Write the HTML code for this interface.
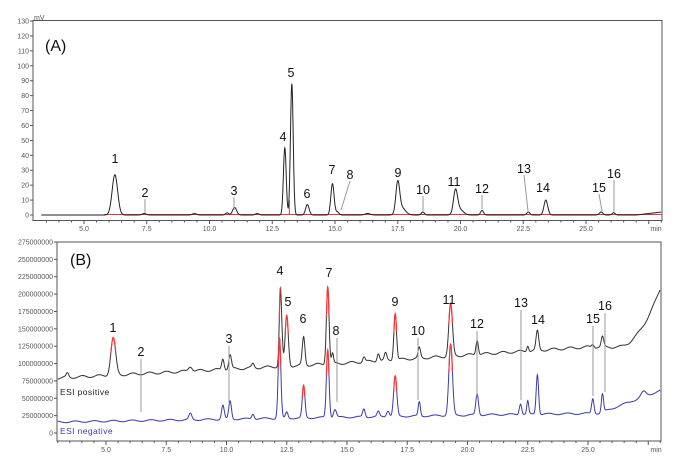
<!DOCTYPE html>
<html><head><meta charset="utf-8"><style>
html,body{margin:0;padding:0;background:#fff;}
svg{display:block;font-family:"Liberation Sans",sans-serif;}
</style></head><body>
<svg id="s" width="676" height="469" viewBox="0 0 676 469" xmlns="http://www.w3.org/2000/svg"></svg>
<script>
const S=document.getElementById('s');let h='';
function g(t,c,w){return Math.exp(-0.5*((t)/w)**2);}
const ax=t=>84+25.1*(t-5), ay=v=>215-v*1.492;
h+='<rect x="33" y="20.5" width="629" height="200" fill="none" stroke="#555" stroke-width="1"/>';
for(let v=0;v<=130;v+=10){const y=ay(v);h+=`<line x1="30" x2="33" y1="${y}" y2="${y}" stroke="#555"/><text x="29" y="${y+2.5}" font-size="7" fill="#555" text-anchor="end">${v}</text>`;}
h+='<text x="34" y="20" font-size="7" fill="#555">mV</text>';
for(let t=3.5;t<=28;t+=0.5){const x=ax(t);const maj=Math.abs(t/2.5-Math.round(t/2.5))<1e-6;h+=`<line x1="${x}" x2="${x}" y1="220.5" y2="${maj?224:222.5}" stroke="#555"/>`;if(maj&&t<27)h+=`<text x="${x}" y="231" font-size="7" fill="#555" text-anchor="middle">${t.toFixed(1)}</text>`;}
h+='<text x="656" y="231" font-size="7" fill="#555" text-anchor="middle">min</text>';
const pA=[[6.23,27,.11],[7.4,1,.08],[9.4,1,.08],[10.7,1.5,.06],[11.0,5,.08],[11.9,1,.07],[13.0,45,.055],[13.28,88,.055],[13.9,7,.07],[14.9,21,.065],[15.1,2,.06],[16.3,1,.1],[17.5,20,.075],[17.65,5,.15],[18.5,2,.06],[19.8,15,.08],[19.95,4,.15],[20.86,3,.06],[22.7,2,.06],[23.4,10,.075],[25.6,2,.07],[26.1,1.5,.06]];
let d='';for(let t=3.3;t<=28;t+=0.01){let v=0;for(const p of pA)v+=p[1]*g(t-p[0],0,p[2]);if(t>27)v+=(t-27)*2;d+=(d?'L':'M')+ax(t).toFixed(1)+','+ay(v).toFixed(1);}
h+=`<line x1="${ax(5.8)}" x2="662" y1="${ay(0.3)}" y2="${ay(0.3)}" stroke="#e33" stroke-width="1"/><line x1="${ax(13.18)}" x2="${ax(13.18)}" y1="${ay(0)}" y2="${ay(10)}" stroke="#e33"/>`;
h+=`<path d="${d}" fill="none" stroke="#222" stroke-width="1"/>`;
h+='<text x="45" y="51" font-size="16" fill="#111">(A)</text>';
const lA=[[1,115,163],[2,145,197],[3,234,195],[4,283,141],[5,291,77],[6,307,198],[7,332,174],[8,350,179],[9,398,177],[10,423,194],[11,454,186],[12,482,193],[13,524,173],[14,543,192],[15,599,192],[16,614,178]];
for(const l of lA)h+=`<text x="${l[1]}" y="${l[2]}" font-size="12.5" fill="#111" text-anchor="middle">${l[0]}</text>`;
h+=`<line x1="145" x2="145" y1="199" y2="213" stroke="#999"/><line x1="234" x2="234" y1="197" y2="210" stroke="#999"/><line x1="350" x2="341" y1="181" y2="210" stroke="#999"/><line x1="423" x2="423" y1="196" y2="211" stroke="#999"/><line x1="482" x2="482" y1="195" y2="209" stroke="#999"/><line x1="524" x2="528" y1="175" y2="211" stroke="#999"/><line x1="599" x2="602" y1="194" y2="211" stroke="#999"/><line x1="614" x2="614" y1="180" y2="212" stroke="#999"/>`;
const bx=t=>106+24.1*(t-5), by=v=>433-v*0.6945;
h+='<rect x="57" y="242" width="604" height="199" fill="none" stroke="#555"/>';
for(let v=0;v<=275;v+=25){const y=by(v);h+=`<line x1="54" x2="57" y1="${y}" y2="${y}" stroke="#555"/><text x="53" y="${y+2.5}" font-size="7" fill="#555" text-anchor="end">${v?v+'000000':'0'}</text>`;}
for(let t=3;t<=28;t+=0.5){const x=bx(t);const maj=Math.abs(t/2.5-Math.round(t/2.5))<1e-6;h+=`<line x1="${x}" x2="${x}" y1="441" y2="${maj?445:443}" stroke="#555"/>`;if(maj&&t<27)h+=`<text x="${x}" y="452" font-size="7" fill="#555" text-anchor="middle">${t.toFixed(1)}</text>`;}
h+='<text x="656" y="452" font-size="7" fill="#555" text-anchor="middle">min</text>';
function base1(t){let b=378-(t-3)*1.25; if(t>15)b=363-(t-15)*1.6; if(t>25)b=347; if(t>26.2)b=347-(t-26.2)**2*18;return b+Math.sin(t*9)*1.2;}
function base2(t){let b=422-(t-3)*0.4; if(t>20)b=415-(t-20)*0.3; if(t>25.5)b=413-(t-25.5)*9;return Math.max(b,388)+Math.sin(t*8)*0.8;}
const pP=[[3.4,4,.05],[5.3,37,.1,1],[8.5,5,.08],[9.85,11,.05],[10.15,14,.055],[11.1,4,.05],[12.25,63,.055],[12.22,20,.03,1],[12.5,50,.065,1],[13.2,28,.055],[14.2,78,.055,1],[14.4,10,.04],[15.7,5,.05],[16.3,8,.05],[16.6,7,.05],[17.0,47,.055,1],[18.0,10,.05],[19.3,52,.075,1],[20.4,15,.05],[22.5,6,.04],[22.9,19,.055],[25.2,3,.05],[25.6,10,.05]];
const pN=[[8.5,6,.06],[9.85,14,.055],[10.15,18,.055],[11.1,5,.05],[12.2,80,.055,1],[12.5,6,.05],[13.2,32,.055,1],[14.2,68,.055,1],[14.5,8,.06],[15.7,8,.05],[16.3,5,.05],[16.7,6,.06],[17.0,40,.065,1],[18.0,14,.045],[19.3,71,.075,1],[20.4,21,.055],[22.2,11,.05],[22.5,13,.04],[22.9,40,.05],[25.2,15,.05],[25.6,18,.045],[27.3,5,.1]];
function trace(base,P,col){let d='';for(let t=3;t<=28;t+=0.01){let v=base(t);for(const p of P)v-=p[1]*g(t-p[0],0,p[2]);d+=(d?'L':'M')+bx(t).toFixed(1)+','+v.toFixed(1);}
h+=`<path d="${d}" fill="none" stroke="${col}" stroke-width="1"/>`;
for(const p of P){if(!p[3])continue;let r='';for(let t=p[0]-p[2]*1.0;t<=p[0]+p[2]*1.0;t+=0.005){let v=base(t);for(const q of P)v-=q[1]*g(t-q[0],0,q[2]);r+=(r?'L':'M')+bx(t).toFixed(1)+','+v.toFixed(1);}h+=`<path d="${r}" fill="none" stroke="#f33" stroke-width="1.2"/>`;}}
trace(base1,pP,'#333');trace(base2,pN,'#3a3ab0');
h+='<text x="70" y="265" font-size="16" fill="#111">(B)</text>';
h+='<text x="60" y="395" font-size="8.5" fill="#222" letter-spacing=".4">ESI positive</text><text x="60" y="434" font-size="8.5" fill="#3a3ab0" letter-spacing=".4">ESI negative</text>';
const lB=[[1,113,332],[2,141,356],[3,229,343],[4,280,275],[5,288,306],[6,303,323],[7,329,277],[8,336,335],[9,395,306],[10,418,335],[11,449,304],[12,477,328],[13,521,307],[14,538,324],[15,593,323],[16,605,310]];
for(const l of lB)h+=`<text x="${l[1]}" y="${l[2]}" font-size="12.5" fill="#111" text-anchor="middle">${l[0]}</text>`;
const leads=[[141,359,412],[229,346,403],[337,338,402],[418,338,400],[477,331,396],[521,310,400],[593,326,396],[605,313,392]];
for(const l of leads)h+=`<line x1="${l[0]}" x2="${l[0]}" y1="${l[1]}" y2="${l[2]}" stroke="#999"/>`;
S.innerHTML=h;
</script>
</body></html>
